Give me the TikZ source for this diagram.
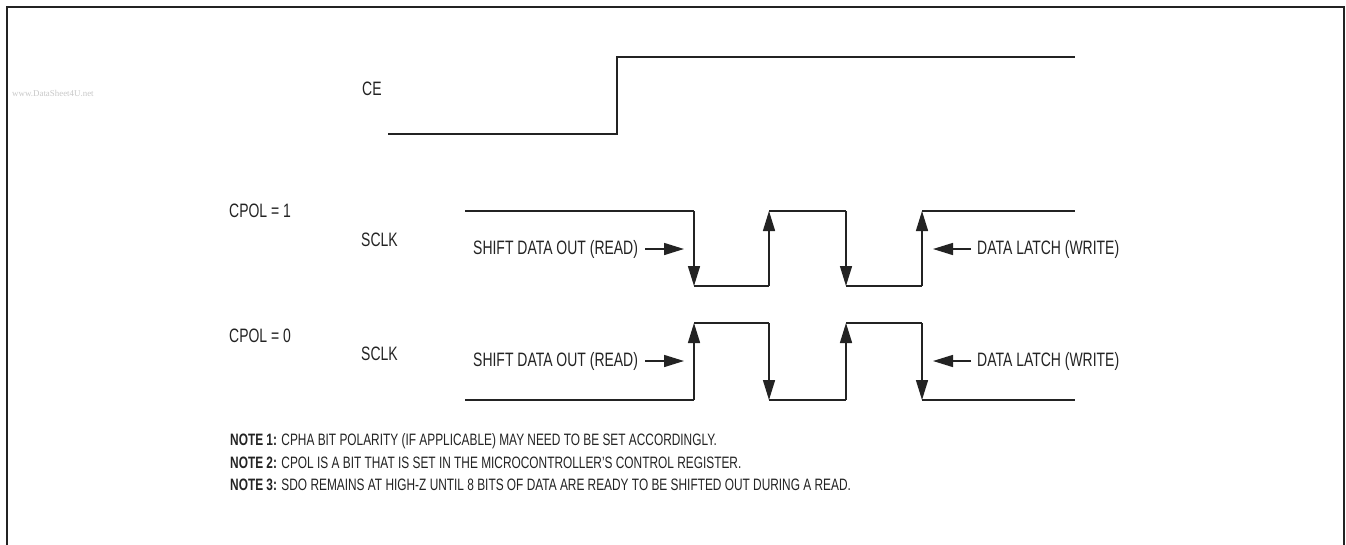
\documentclass[tikz,border=0pt]{standalone}
\usepackage{fontspec}
\setmainfont{Liberation Sans}[FakeStretch=0.72]
\newfontfamily\wmfont{Liberation Serif}
\usetikzlibrary{arrows.meta}
\definecolor{sigcol}{HTML}{232323}
\definecolor{wmcol}{HTML}{C8C8C8}
\begin{document}
\begin{tikzpicture}[x=1pt,y=-1pt,
  sig/.style={draw=sigcol,line width=1.5pt},
  tipend/.style={-{Triangle[length=20pt,width=12pt]}},
  lbl/.style={font=\fontsize{19.4}{22}\selectfont, text=sigcol, inner sep=0pt, anchor=west},
  notetxt/.style={font=\fontsize{16.5}{19}\selectfont, text=sigcol, inner sep=0pt, anchor=west},
  frame/.style={draw=sigcol,line width=2pt}]
\useasboundingbox (0,0) rectangle (1346,544);
% frame
\coordinate (fbl) at (7,545);
\coordinate (ftl) at (7,7);
\coordinate (ftr) at (1344,7);
\coordinate (fbr) at (1344,545);
\draw[frame] (fbl) -- (ftl) -- (ftr) -- (fbr);
% watermark
\node[font=\wmfont\fontsize{8.9}{10}\selectfont, text=wmcol, inner sep=0pt, anchor=west] (wm) at (12,93) {www.DataSheet4U.net};
% labels
\node[lbl] (ce) at (362,89) {CE};
\node[lbl] (cpol1) at (229,211) {CPOL = 1};
\node[lbl] (sclk1) at (361,240) {SCLK};
\node[lbl] (cpol0) at (229,336) {CPOL = 0};
\node[lbl] (sclk0) at (361,354) {SCLK};
% CE waveform
\coordinate (ce0) at (388,134);
\coordinate (ce1) at (617,134);
\coordinate (ce2) at (617,57);
\coordinate (ce3) at (1075,57);
\draw[sig] (ce0) -- (ce1) -- (ce2) -- (ce3);
% CPOL=1 SCLK
\def\hi{211}\def\lo{286}
\coordinate (a0) at (465,\hi);
\coordinate (a1) at (694,\hi);
\coordinate (a2) at (694,\lo);
\coordinate (a3) at (769,\lo);
\coordinate (a4) at (769,\hi);
\coordinate (a5) at (846,\hi);
\coordinate (a6) at (846,\lo);
\coordinate (a7) at (922,\lo);
\coordinate (a8) at (922,\hi);
\coordinate (a9) at (1075,\hi);
\draw[sig] (a0) -- (a1);
\draw[sig,tipend] (a1) -- (a2);
\draw[sig] (a2) -- (a3);
\draw[sig,tipend] (a3) -- (a4);
\draw[sig] (a4) -- (a5);
\draw[sig,tipend] (a5) -- (a6);
\draw[sig] (a6) -- (a7);
\draw[sig,tipend] (a7) -- (a8);
\draw[sig] (a8) -- (a9);
% CPOL=0 SCLK
\def\hib{323}\def\lob{400}
\coordinate (b0) at (465,\lob);
\coordinate (b1) at (694,\lob);
\coordinate (b2) at (694,\hib);
\coordinate (b3) at (769,\hib);
\coordinate (b4) at (769,\lob);
\coordinate (b5) at (846,\lob);
\coordinate (b6) at (846,\hib);
\coordinate (b7) at (922,\hib);
\coordinate (b8) at (922,\lob);
\coordinate (b9) at (1075,\lob);
\draw[sig] (b0) -- (b1);
\draw[sig,tipend] (b1) -- (b2);
\draw[sig] (b2) -- (b3);
\draw[sig,tipend] (b3) -- (b4);
\draw[sig] (b4) -- (b5);
\draw[sig,tipend] (b5) -- (b6);
\draw[sig] (b6) -- (b7);
\draw[sig,tipend] (b7) -- (b8);
\draw[sig] (b8) -- (b9);
% annotations CPOL=1
\node[lbl] (sh1) at (473,249) {SHIFT DATA OUT (READ)};
\coordinate (sh1t) at (684,249);
\draw[sig,tipend] ([xshift=7pt]sh1.east) -- (sh1t);
\node[lbl] (dl1) at (977,249) {DATA LATCH (WRITE)};
\coordinate (dl1t) at (933,249);
\draw[sig,tipend] ([xshift=-6pt]dl1.west) -- (dl1t);
% annotations CPOL=0
\node[lbl] (sh0) at (473,361) {SHIFT DATA OUT (READ)};
\coordinate (sh0t) at (684,361);
\draw[sig,tipend] ([xshift=7pt]sh0.east) -- (sh0t);
\node[lbl] (dl0) at (977,361) {DATA LATCH (WRITE)};
\coordinate (dl0t) at (933,361);
\draw[sig,tipend] ([xshift=-6pt]dl0.west) -- (dl0t);
% notes
\node[notetxt] (n1) at (230,441) {\textbf{NOTE 1:} CPHA BIT POLARITY (IF APPLICABLE) MAY NEED TO BE SET ACCORDINGLY.};
\node[notetxt] (n2) at (230,463) {\textbf{NOTE 2:} CPOL IS A BIT THAT IS SET IN THE MICROCONTROLLER’S CONTROL REGISTER.};
\node[notetxt] (n3) at (230,485) {\textbf{NOTE 3:} SDO REMAINS AT HIGH-Z UNTIL 8 BITS OF DATA ARE READY TO BE SHIFTED OUT DURING A READ.};
\end{tikzpicture}
\end{document}
